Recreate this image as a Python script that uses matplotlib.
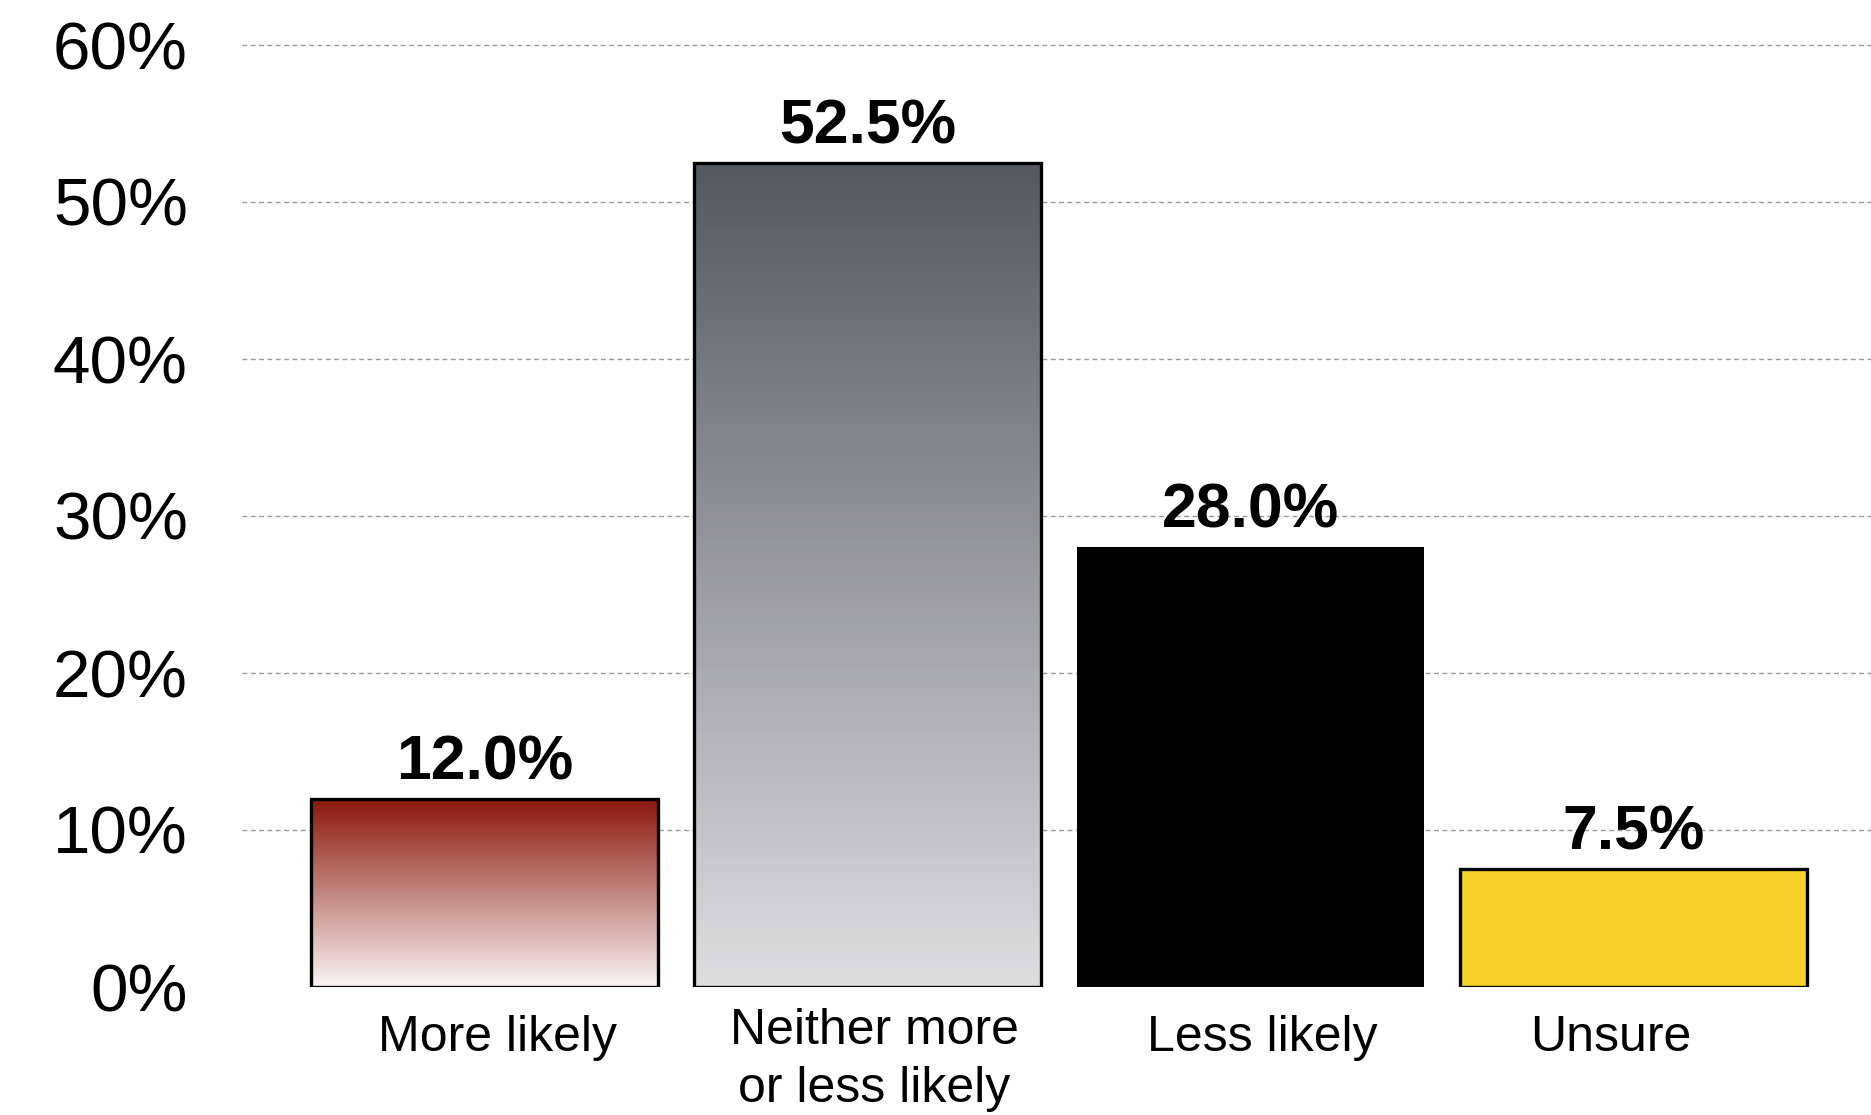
import numpy as np
import matplotlib
matplotlib.use("Agg")
import matplotlib.pyplot as plt
from matplotlib.colors import LinearSegmentedColormap
from matplotlib.transforms import ScaledTranslation

plt.rcParams['font.family'] = ['Liberation Sans', 'DejaVu Sans']

categories = ["More likely", "Neither more\nor less likely", "Less likely", "Unsure"]
values = [12.0, 52.5, 28.0, 7.5]
value_labels = ["12.0%", "52.5%", "28.0%", "7.5%"]
yticks = [0, 10, 20, 30, 40, 50, 60]
ytick_labels = ["0%", "10%", "20%", "30%", "40%", "50%", "60%"]

# fill styles: (top colour, bottom colour) for gradients, or a plain colour
fills = [("#8A160B", "#FAF5F4"), ("#545861", "#DDDEE0"), "#000000", "#F5D22B"]
# small nudges of the category labels (pixels, x then y)
label_nudge_px = [(13, 0), (7, 7), (12, 0), (-23, 0)]

W, H = 1871, 1115
fig = plt.figure(figsize=(W / 100, H / 100), dpi=100)
ax_left = 242 / W
ax_bottom = (H - 987) / H
ax_top_px = 987 - 15.7 * 61
ax = fig.add_axes([ax_left, ax_bottom, 1 - ax_left, (987 - ax_top_px) / H])

x = np.arange(len(categories))
bars = ax.bar(x, values, width=0.905, zorder=3, edgecolor="black", linewidth=2.4)

for b, f in zip(bars, fills):
    if isinstance(f, tuple):
        b.set_facecolor("none")
        cmap = LinearSegmentedColormap.from_list("g", [f[1], f[0]])
        x0, y0 = b.get_x(), b.get_y()
        grad = np.linspace(0, 1, 256).reshape(-1, 1)
        im = ax.imshow(grad, cmap=cmap, aspect="auto", origin="lower",
                       extent=[x0, x0 + b.get_width(), y0, y0 + b.get_height()],
                       zorder=2.5)
        im.set_clip_path(b)
    else:
        b.set_facecolor(f)
        if f == "#000000":
            b.set_linewidth(0)

for b, lbl in zip(bars, value_labels):
    ax.annotate(lbl, (b.get_x() + b.get_width() / 2, b.get_height()),
                xytext=(0, 14), textcoords="offset points",
                ha="center", va="baseline", fontsize=45, fontweight="bold",
                color="black", zorder=5)

ax.set_xlim(-0.633, 3.62)
ax.set_ylim(0, 61)
ax.set_yticks(yticks)
ax.set_yticklabels(ytick_labels, fontsize=48.5)
ax.set_xticks(x)
ax.set_xticklabels(categories, fontsize=36, linespacing=1.33)
ax.tick_params(axis="y", length=0, pad=39)
ax.tick_params(axis="x", length=0, pad=20)
for lab, (dx, dy) in zip(ax.get_xticklabels(), label_nudge_px):
    lab.set_transform(lab.get_transform() + ScaledTranslation(dx / 100, dy / 100, fig.dpi_scale_trans))
for s in ax.spines.values():
    s.set_visible(False)

for t in yticks[1:]:
    ax.axhline(t, color="#999999", linewidth=1.0, linestyle=(0, (3.5, 2.5)), zorder=1)

fig.savefig("out.png", dpi=100, facecolor="white")
